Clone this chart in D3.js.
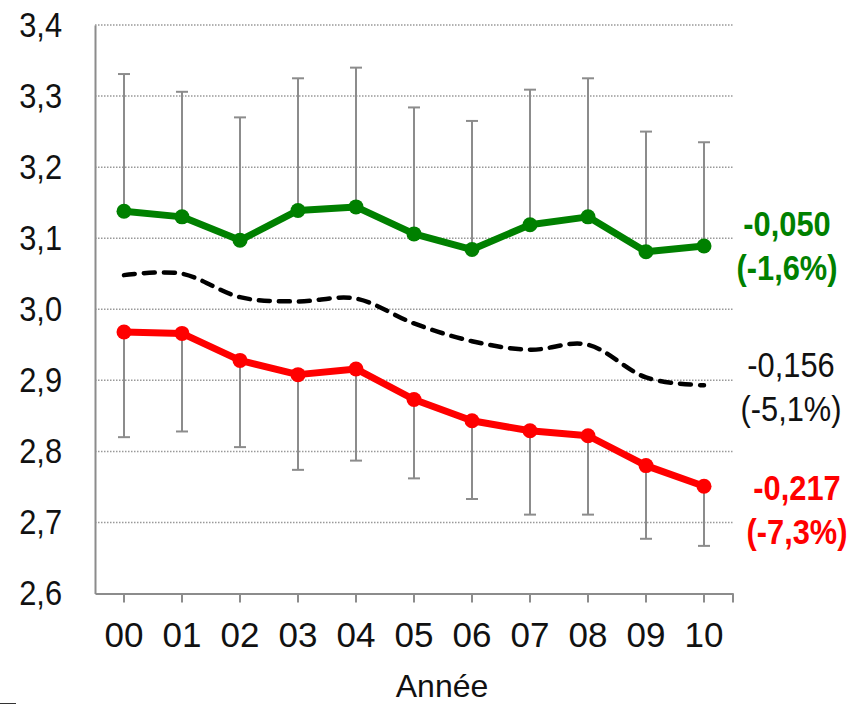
<!DOCTYPE html>
<html>
<head>
<meta charset="utf-8">
<script src="https://d3js.org/d3.v7.min.js"></script>
<style>
  body { margin: 0; background: #fff; }
  svg text { font-family: "Liberation Sans Narrow", "Arial Narrow", "Liberation Sans", sans-serif; }
</style>
</head>
<body>
<svg id="chart" width="852" height="705"></svg>
<script>
// years on the x axis
const years = ["00","01","02","03","04","05","06","07","08","09","10"];
const yTicks = [2.6, 2.7, 2.8, 2.9, 3.0, 3.1, 3.2, 3.3, 3.4];

// upper series (green) with its error bar tops
const green = [3.138, 3.130, 3.097, 3.139, 3.144, 3.106, 3.084, 3.119, 3.130, 3.081, 3.089];
const greenTop = [3.331, 3.306, 3.270, 3.325, 3.340, 3.284, 3.265, 3.309, 3.325, 3.250, 3.235];

// lower series (red) with its error bar bottoms
const red = [2.968, 2.966, 2.928, 2.908, 2.916, 2.873, 2.843, 2.829, 2.822, 2.780, 2.751];
const redBottom = [2.820, 2.828, 2.806, 2.774, 2.787, 2.762, 2.733, 2.711, 2.711, 2.677, 2.667];

// mean (dashed black)
const mean = [3.048, 3.050, 3.017, 3.011, 3.015, 2.980, 2.955, 2.943, 2.950, 2.904, 2.893];

// change labels at the right
const greenLabel = ["-0,050", "(-1,6%)"];
const meanLabel = ["-0,156", "(-5,1%)"];
const redLabel = ["-0,217", "(-7,3%)"];

var svg = d3.select("#chart"),
    margin = {top: 25, left: 95, right: 119, bottom: 111},
    width = +svg.attr("width"),
    height = +svg.attr("height");

var x = d3.scaleBand()
    .domain(years)
    .range([margin.left, width - margin.right]);

var y = d3.scaleLinear()
    .domain([2.6, 3.4])
    .range([height - margin.bottom - 0.5, margin.top]);

var cx = d => x(d) + x.bandwidth() / 2;
var fmt = d => d3.format(".1f")(d).replace(".", ",");
var grey = "#8c8c8c";
var squeeze = 0.88; // narrow look of the original font

// dotted gridlines
svg.append("g").selectAll("line")
    .data(yTicks.filter(t => t > 2.6))
  .enter().append("line")
    .attr("x1", margin.left)
    .attr("x2", width - margin.right)
    .attr("y1", d => y(d))
    .attr("y2", d => y(d))
    .attr("stroke", "#999")
    .attr("stroke-width", 1.5)
    .attr("stroke-dasharray", "1.5,1.5");

// y axis
var yAxis = svg.append("g")
    .attr("transform", "translate(" + margin.left + ",0)")
    .call(d3.axisLeft(y).tickValues(yTicks).tickFormat(fmt).tickSize(0));
yAxis.select(".domain").attr("stroke", grey).attr("stroke-width", 2);
yAxis.selectAll("text")
    .attr("font-size", 35)
    .attr("fill", "#111")
    .attr("x", -33 / squeeze)
    .attr("transform", "scale(" + squeeze + ",1)");

// x axis
var xAxis = svg.append("g")
    .attr("transform", "translate(0," + y(2.6) + ")")
    .call(d3.axisBottom(x).tickSize(9).tickSizeOuter(0).tickPadding(20));
xAxis.select(".domain").attr("stroke", grey).attr("stroke-width", 2);
xAxis.selectAll("line").attr("stroke", grey).attr("stroke-width", 2);
xAxis.selectAll("text").attr("font-size", 35).attr("fill", "#111");
xAxis.append("line")
    .attr("x1", width - margin.right).attr("x2", width - margin.right)
    .attr("y1", 0).attr("y2", 9)
    .attr("stroke", grey).attr("stroke-width", 2);

svg.append("text")
    .attr("x", 442)
    .attr("y", 697)
    .attr("text-anchor", "middle")
    .attr("font-size", 32)
    .attr("fill", "#111")
    .text("Année");

// error bars
function errorBars(vals, ends) {
  var g = svg.append("g").attr("stroke", grey).attr("stroke-width", 2);
  years.forEach((yr, i) => {
    g.append("line")
      .attr("x1", cx(yr)).attr("x2", cx(yr))
      .attr("y1", y(vals[i])).attr("y2", y(ends[i]));
    g.append("line")
      .attr("x1", cx(yr) - 6).attr("x2", cx(yr) + 6)
      .attr("y1", y(ends[i])).attr("y2", y(ends[i]));
  });
}
errorBars(green, greenTop);
errorBars(red, redBottom);

// mean line
svg.append("path")
    .datum(mean)
    .attr("fill", "none")
    .attr("stroke", "#000")
    .attr("stroke-width", 4.5)
    .attr("stroke-linecap", "round")
    .attr("stroke-dasharray", "11,9")
    .attr("d", d3.line().x((d, i) => cx(years[i])).y(d => y(d)).curve(d3.curveCatmullRom.alpha(0)));

function series(vals, color) {
  svg.append("path")
    .datum(vals)
    .attr("fill", "none")
    .attr("stroke", color)
    .attr("stroke-width", 7)
    .attr("stroke-linejoin", "round")
    .attr("d", d3.line().x((d, i) => cx(years[i])).y(d => y(d)));
  svg.append("g").selectAll("circle")
    .data(vals)
  .enter().append("circle")
    .attr("cx", (d, i) => cx(years[i]))
    .attr("cy", d => y(d))
    .attr("r", 7.5)
    .attr("fill", color);
}
series(green, "#008000");
series(red, "#ff0000");

// labels at right
function label(lines, xc, y0, color, weight) {
  var t = svg.append("g")
    .attr("transform", "translate(" + xc + "," + y0 + ") scale(" + squeeze + ",1)")
    .append("text")
    .attr("text-anchor", "middle")
    .attr("font-size", 35)
    .attr("font-weight", weight)
    .attr("fill", color);
  lines.forEach((s, i) => {
    t.append("tspan").attr("x", 0).attr("y", i * 44).text(s);
  });
}
label(greenLabel, 787, 236, "#008000", "bold");
label(meanLabel, 791, 377, "#111", "normal");
label(redLabel, 797, 500, "#ff0000", "bold");

// small mark bottom left
svg.append("line")
    .attr("x1", 0).attr("x2", 16).attr("y1", 703.5).attr("y2", 703.5)
    .attr("stroke", "#333").attr("stroke-width", 1);
</script>
</body>
</html>
